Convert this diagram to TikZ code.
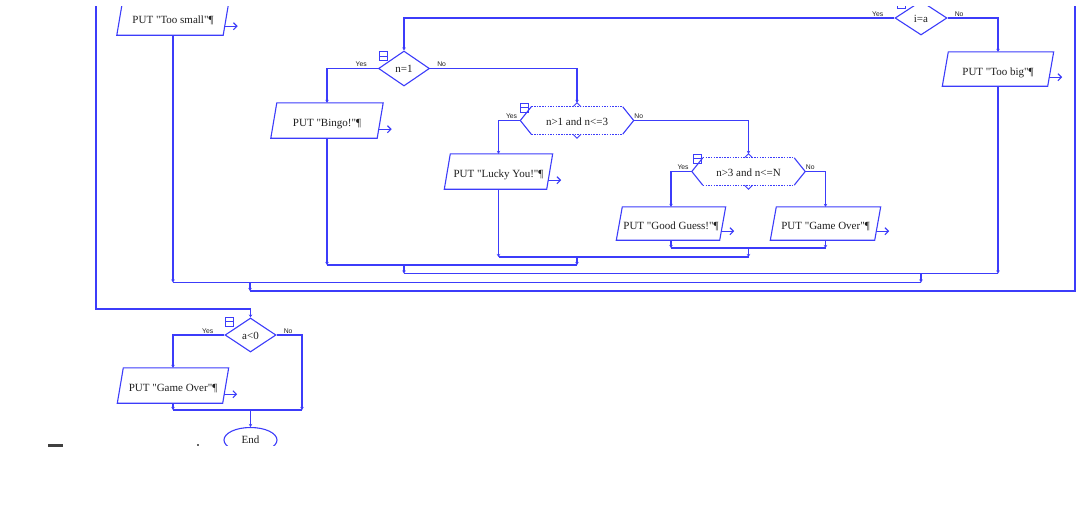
\documentclass[tikz,border=0pt]{standalone}
\usepackage{fontspec}
\setmainfont{Liberation Serif}[Ligatures=TeXOff]
\newfontfamily\lblfont{Liberation Sans}
\usetikzlibrary{shapes.geometric,arrows.meta}
\definecolor{fl}{RGB}{60,60,250}
\definecolor{tx}{RGB}{30,30,30}
\tikzset{
 ln/.style={draw=fl, line width=1.1pt},
 tip/.style={-{Stealth[length=3pt,width=3.5pt]}},
 outarr/.style={draw=fl, line width=1.1pt, -{Straight Barb[length=3.5pt,width=7pt]}},
 txt/.style={font=\fontsize{11}{13}\selectfont, text=tx},
 iobox/.style={txt, rectangle, inner sep=0pt, text height=12pt, text depth=0pt, minimum height=35pt},
 dec/.style={ln, diamond, inner sep=0pt, txt, text height=8pt, text depth=0pt},
 hexb/.style={txt, rectangle, inner sep=0pt, minimum width=113pt, minimum height=27pt, text height=10pt, text depth=0pt},
 lbl/.style={font=\lblfont\fontsize{6.8}{7}\selectfont, text=tx, inner sep=0pt},
 endst/.style={ln, ellipse, txt, minimum width=53pt, minimum height=25pt, inner sep=0pt},
}
\newcommand\ioout[1]{%
 \draw[ln] ([xshift=3pt]#1.north west) -- ([xshift=3pt]#1.north east) -- ([xshift=-3pt]#1.south east) -- ([xshift=-3pt]#1.south west) -- cycle;
 \draw[outarr] ([xshift=-1.5pt,yshift=9pt]#1.south east) -- ++(13,0);}
\newcommand\hexout[1]{%
 \draw[ln] ([xshift=11pt]#1.north west) -- (#1.west) -- ([xshift=11pt]#1.south west);
 \draw[ln] ([xshift=-11pt]#1.north east) -- (#1.east) -- ([xshift=-11pt]#1.south east);
 \draw[ln, line width=0.7pt, dash pattern=on 1.5pt off 1.2pt] ([xshift=11pt]#1.north west) -- ([xshift=-11pt]#1.north east);
 \draw[ln, line width=0.7pt, dash pattern=on 1.5pt off 1.2pt] ([xshift=11pt]#1.south west) -- ([xshift=-11pt]#1.south east);
 \draw[ln, line width=0.8pt] ([xshift=-4pt]#1.north) -- ([yshift=4pt]#1.north) -- ([xshift=4pt]#1.north);
 \draw[ln, line width=0.8pt] ([xshift=-4pt]#1.south) -- ([yshift=-4pt]#1.south) -- ([xshift=4pt]#1.south);}
\newcommand\fold[2]{%
 \draw[ln, line width=0.9pt] ({#1-4},{#2-4.5}) rectangle ({#1+4},{#2+4.5});
 \draw[ln, line width=0.9pt] ({#1-4},{#2}) -- ({#1+4},{#2});}
\begin{document}
\begin{tikzpicture}[x=1pt,y=-1pt]
\useasboundingbox (0,0) rectangle (1089,514);
\begin{scope}
\clip (0,6.5) rectangle (1089,445.5);
% nodes
\node[iobox, minimum width=106pt] (toosmall) at (173,17.5) {PUT "Too small"¶};
\node[dec, minimum width=52pt, minimum height=34pt] (ia) at (921,18) {i=a};
\node[dec, minimum width=51pt, minimum height=35pt] (n1) at (404,68.5) {n=1};
\node[iobox, minimum width=105pt, minimum height=34pt] (toobig) at (998,69) {PUT "Too big"¶};
\node[iobox, minimum width=106pt] (bingo) at (327,120.5) {PUT "Bingo!"¶};
\node[hexb] (h1) at (577,120.5) {n>1 and n<=3};
\node[iobox, minimum width=102pt] (lucky) at (498.5,171.5) {PUT "Lucky You!"¶};
\node[hexb] (h2) at (748.5,171.5) {n>3 and n<=N};
\node[iobox, minimum width=103pt, minimum height=33pt] (good) at (671,223.5) {PUT "Good Guess!"¶};
\node[iobox, minimum width=104pt, minimum height=33pt] (over) at (825.5,223.5) {PUT "Game Over"¶};
\node[dec, minimum width=51pt, minimum height=34pt] (alt) at (250.5,335) {a<0};
\node[iobox, minimum width=105pt] (over2) at (173,385.5) {PUT "Game Over"¶};
\node[endst] (end) at (250.5,440) {End};
% outlines
\ioout{toosmall}\ioout{toobig}\ioout{bingo}\ioout{lucky}\ioout{good}\ioout{over}\ioout{over2}
\hexout{h1}\hexout{h2}
% icons
\fold{901}{4}\fold{383}{56}\fold{524.5}{107.5}\fold{697}{158.5}\fold{229}{321.5}
% labels
\node[lbl, anchor=south east] (iay) at ([xshift=-11pt,yshift=1.5pt]ia.west) {Yes};
\node[lbl, anchor=south west] (ian) at ([xshift=7pt,yshift=1.5pt]ia.east) {No};
\node[lbl, anchor=south east] (n1y) at ([xshift=-11pt,yshift=1.5pt]n1.west) {Yes};
\node[lbl, anchor=south west] (n1n) at ([xshift=7pt,yshift=1.5pt]n1.east) {No};
\node[lbl, anchor=south east] (h1y) at ([xshift=-3pt,yshift=1.5pt]h1.west) {Yes};
\node[lbl, anchor=south west] (h1n) at ([xshift=0.5pt,yshift=1.5pt]h1.east) {No};
\node[lbl, anchor=south east] (h2y) at ([xshift=-3pt,yshift=1.5pt]h2.west) {Yes};
\node[lbl, anchor=south west] (h2n) at ([xshift=0.5pt,yshift=1.5pt]h2.east) {No};
\node[lbl, anchor=south east] (aly) at ([xshift=-11pt,yshift=1.5pt]alt.west) {Yes};
\node[lbl, anchor=south west] (aln) at ([xshift=7pt,yshift=1.5pt]alt.east) {No};
% coordinates
\coordinate (m4) at (748.5,248);
\coordinate (m3) at (577,257);
\coordinate (m2) at (404,265);
\coordinate (m1) at (921,273.5);
\coordinate (m0) at (250,282.5);
\coordinate (lp) at (250,291);
\coordinate (lpr) at (1075,0);
\coordinate (lpl) at (96,0);
\coordinate (ex) at (250.5,309);
\coordinate (m5) at (250.5,410);
\coordinate (altno) at (302,410);
% branches
\draw[ln,tip] (ia.west) -| (n1.north);
\draw[ln,tip] (ia.east) -| (toobig.north);
\draw[ln,tip] (n1.west) -| (bingo.north);
\draw[ln,tip] (n1.east) -| ([yshift=4pt]h1.north);
\draw[ln,tip] (h1.west) -| (lucky.north);
\draw[ln,tip] (h1.east) -| ([yshift=4pt]h2.north);
\draw[ln,tip] (h2.west) -| (good.north);
\draw[ln,tip] (h2.east) -| (over.north);
% merges
\draw[ln,tip] (good.south) -- (good.south |- m4);
\draw[ln,tip] (over.south) -- (over.south |- m4);
\draw[ln] (good.south |- m4) -- (over.south |- m4);
\draw[ln,tip] (m4) -- (m4 |- m3);
\draw[ln,tip] (lucky.south) -- (lucky.south |- m3);
\draw[ln] (lucky.south |- m3) -- (m4 |- m3);
\draw[ln,tip] (m3) -- (m3 |- m2);
\draw[ln,tip] (bingo.south) -- (bingo.south |- m2);
\draw[ln] (bingo.south |- m2) -- (m3 |- m2);
\draw[ln,tip] (m2) -- (m2 |- m1);
\draw[ln,tip] (toobig.south) -- (toobig.south |- m1);
\draw[ln] (m2 |- m1) -- (toobig.south |- m1);
\draw[ln,tip] (m1) -- (m1 |- m0);
\draw[ln,tip] (toosmall.south) -- (toosmall.south |- m0);
\draw[ln] (toosmall.south |- m0) -- (m1 |- m0);
\draw[ln,tip] (m0) -- (lp);
\draw[ln] (lp) -| (lpr);
% exit and final branch
\draw[ln,tip] (lpl) |- (ex) -- (alt.north);
\draw[ln,tip] (alt.west) -| (over2.north);
\draw[ln,tip] (alt.east) -| (altno);
\draw[ln,tip] (over2.south) -- (over2.south |- m5);
\draw[ln] (over2.south |- m5) -- (altno);
\draw[ln,tip] (m5) -- (end.north);
\end{scope}
\fill[black!75] (48,444) rectangle (63,446.5);
\fill[black!60] (197,444) rectangle (198.5,446);
\end{tikzpicture}
\end{document}
